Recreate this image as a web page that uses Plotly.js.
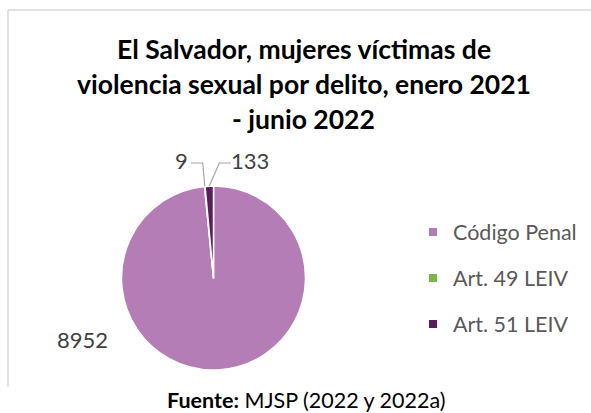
<!DOCTYPE html>
<html>
<head>
<meta charset="utf-8">
<script src="https://cdn.plot.ly/plotly-3.0.1.min.js"></script>
<style>html,body{margin:0;padding:0;background:#fff}#chart{width:591px;height:413px}</style>
</head>
<body>
<div id="chart"></div>
<script>
const categories = ["Código Penal", "Art. 49 LEIV", "Art. 51 LEIV"];
const values = [8952, 9, 133];
const colors = ["#B47DB5", "#7AB648", "#5C1E5A"];
const titleLines = ["El Salvador, mujeres víctimas de", "violencia sexual por delito, enero 2021", "- junio 2022"];
const sourceText = "<b>Fuente:</b> MJSP (2022 y 2022a)";

const W = 591, H = 413;
const px = x => x / W;
const py = y => 1 - y / H;
const cx = 213.5, cy = 278, R = 92;

const traces = [{
  type: "pie",
  labels: categories,
  values: values,
  sort: false,
  direction: "clockwise",
  rotation: 0,
  textinfo: "none",
  hoverinfo: "label+value",
  showlegend: false,
  marker: {colors: colors, line: {color: "#ffffff", width: 1.5}},
  domain: {x: [px(cx - R), px(cx + R)], y: [py(cy + R), py(cy - R)]}
}];
categories.forEach((c, i) => {
  traces.push({
    type: "scatter", mode: "markers", x: [null], y: [null], name: c,
    legendgroup: "g" + i, showlegend: true,
    marker: {symbol: "square", size: 8, color: colors[i]}
  });
});

const total = values.reduce((a, b) => a + b, 0);
function edgePoint(i) {
  let before = 0;
  for (let k = 0; k < i; k++) before += values[k];
  const frac = (before + values[i] / 2) / total;
  const th = frac * 2 * Math.PI;
  return [cx + R * Math.sin(th), cy - R * Math.cos(th)];
}

const FONT = "Lato, 'Open Sans', sans-serif";
const labelFont = {family: FONT, size: 22, color: "#404040"};
const annotations = [];
titleLines.forEach((t, i) => {
  annotations.push({text: "<b>" + t + "</b>", xref: "paper", yref: "paper",
    x: px(304), y: py(49 + 35 * i), xanchor: "center", yanchor: "middle", showarrow: false,
    font: {family: FONT, size: 26.5, color: "#000000"}});
});
// data labels
const labelPos = [[82, 339], [181, 160], [250, 160]];
values.forEach((v, i) => {
  annotations.push({text: String(v), xref: "paper", yref: "paper",
    x: px(labelPos[i][0]), y: py(labelPos[i][1]), xanchor: "center", yanchor: "middle",
    showarrow: false, font: labelFont});
});
annotations.push({text: sourceText, xref: "paper", yref: "paper", x: px(306), y: py(400),
  xanchor: "center", yanchor: "middle", showarrow: false,
  font: {family: FONT, size: 21.5, color: "#000000"}});

const shapes = [
  {type: "line", xref: "paper", yref: "paper", x0: px(8), y0: py(10), x1: px(591), y1: py(10), line: {color: "#d9d9d9", width: 1.5}},
  {type: "line", xref: "paper", yref: "paper", x0: px(8), y0: py(10), x1: px(8), y1: py(387), line: {color: "#d9d9d9", width: 1.5}}
];
const e1 = edgePoint(1), e2 = edgePoint(2);
shapes.push({type: "path", xref: "paper", yref: "paper",
  path: `M ${px(191)} ${py(163)} L ${px(e1[0] - 2)} ${py(163)} L ${px(e1[0])} ${py(e1[1])}`,
  line: {color: "#a6a6a6", width: 1.2}});
shapes.push({type: "path", xref: "paper", yref: "paper",
  path: `M ${px(231)} ${py(163)} L ${px(e2[0] + 10)} ${py(163)} L ${px(e2[0])} ${py(e2[1])}`,
  line: {color: "#a6a6a6", width: 1.2}});

const layout = {
  width: W, height: H,
  margin: {l: 0, r: 0, t: 0, b: 0},
  paper_bgcolor: "#ffffff", plot_bgcolor: "rgba(0,0,0,0)",
  xaxis: {visible: false, domain: [0, 1]}, yaxis: {visible: false, domain: [0, 1]},
  showlegend: true,
  legend: {x: px(413), y: py(211.5), xanchor: "left", yanchor: "top",
    font: {family: FONT, size: 21.5, color: "#595959"},
    tracegroupgap: 15, traceorder: "grouped", bgcolor: "rgba(0,0,0,0)"},
  annotations: annotations,
  shapes: shapes
};
Plotly.newPlot("chart", traces, layout, {displayModeBar: false, staticPlot: true});
</script>
</body>
</html>
